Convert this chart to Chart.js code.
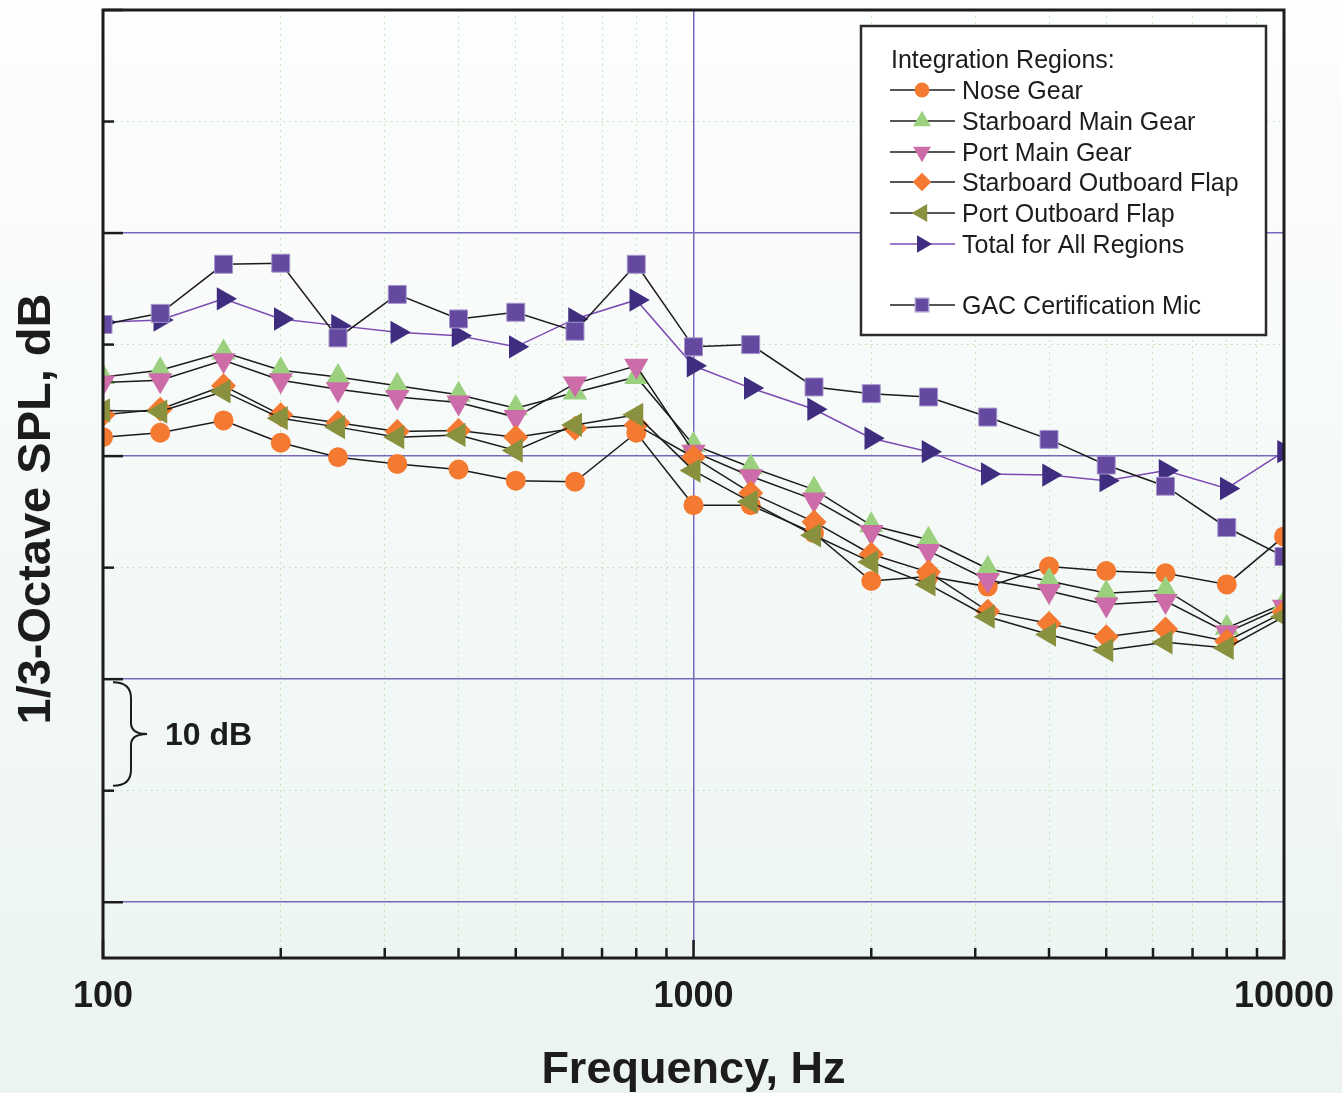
<!DOCTYPE html>
<html>
<head>
<meta charset="utf-8">
<title>1/3-Octave SPL by integration region</title>
<script src="https://cdn.jsdelivr.net/npm/chart.js@4/dist/chart.umd.min.js"></script>
<style>
  html, body { margin: 0; padding: 0; background: #f6faf8; }
  canvas { display: block; }
</style>
</head>
<body>
<canvas id="spl_chart" width="1342" height="1093"></canvas>
<script>
// 1/3-octave band centre frequencies, Hz
const freqs = [100, 125, 160, 200, 250, 315, 400, 500, 630, 800, 1000, 1250, 1600, 2000, 2500, 3150, 4000, 5000, 6300, 8000, 10000];

// band levels, dB (relative)
const noseGear = [41.7, 42.1, 43.2, 41.2, 39.9, 39.3, 38.8, 37.8, 37.7, 42.1, 35.6, 35.6, 33.1, 28.8, 29.2, 28.3, 30.1, 29.7, 29.5, 28.5, 32.8];
const stbdMainGear = [47.1, 47.7, 49.3, 47.7, 47.1, 46.3, 45.5, 44.3, 45.7, 47.1, 41.0, 39.0, 37.0, 33.8, 32.5, 29.9, 28.8, 27.7, 28.0, 24.6, 26.8];
const portMainGear = [46.6, 46.8, 48.6, 46.8, 46.0, 45.3, 44.8, 43.5, 46.5, 48.1, 40.4, 38.2, 36.1, 33.2, 31.5, 28.9, 27.9, 26.7, 27.0, 24.2, 26.5];
const stbdOutFlap = [43.7, 44.2, 46.3, 43.7, 43.0, 42.2, 42.3, 41.7, 42.5, 42.8, 39.9, 36.7, 34.1, 31.2, 29.6, 26.1, 25.0, 23.8, 24.5, 23.4, 26.0];
const portOutFlap = [44.1, 44.0, 45.8, 43.4, 42.6, 41.7, 41.9, 40.5, 42.8, 43.7, 38.7, 35.9, 32.9, 30.5, 28.5, 25.6, 24.0, 22.6, 23.3, 22.8, 25.6];
const totalAll = [52.0, 52.2, 54.1, 52.3, 51.7, 51.1, 50.8, 49.8, 52.3, 54.0, 48.1, 46.1, 44.2, 41.6, 40.4, 38.4, 38.3, 37.8, 38.7, 37.1, 40.4];
const gacMic = [51.8, 52.8, 57.2, 57.3, 50.6, 54.5, 52.3, 52.9, 51.2, 57.2, 49.8, 50.0, 46.2, 45.6, 45.3, 43.5, 41.5, 39.2, 37.3, 33.6, 31.0];

// axis ticks
const xTicks = [100, 200, 300, 400, 500, 600, 700, 800, 900, 1000, 2000, 3000, 4000, 5000, 6000, 7000, 8000, 9000, 10000];
const xLabels = [100, 1000, 10000];
const yTicks = [0, 10, 20, 30, 40, 50, 60, 70, 80];

const FONT = "'Liberation Sans', Arial, Helvetica, sans-serif";
const INK = '#1c1c1c';
const GRID_PURPLE = '#7868bd';
const GRID_DOT = '#b4dea8';

function pts(arr) {
  return freqs.map((f, i) => ({ x: f, y: arr[i] }));
}

const series = [
  { label: 'Nose Gear', data: noseGear, style: 'circle', rot: 0, r: 10, fill: '#f47a32', line: INK, order: 6 },
  { label: 'Starboard Main Gear', data: stbdMainGear, style: 'triangle', rot: 0, r: 14, fill: '#9bd07f', line: INK, order: 5 },
  { label: 'Port Main Gear', data: portMainGear, style: 'triangle', rot: 180, r: 14, fill: '#cc6ca8', line: INK, order: 4 },
  { label: 'Starboard Outboard Flap', data: stbdOutFlap, style: 'rectRot', rot: 0, r: 12.5, fill: '#f47a32', line: INK, order: 3 },
  { label: 'Port Outboard Flap', data: portOutFlap, style: 'triangle', rot: 270, r: 14, fill: '#8a913e', line: INK, order: 2 },
  { label: 'Total for All Regions', data: totalAll, style: 'triangle', rot: 90, r: 13.5, fill: '#3f2e80', line: '#7b4bb3', order: 1 },
  { label: 'GAC Certification Mic', data: gacMic, style: 'rect', rot: 0, r: 12.7, fill: '#65489f', line: INK, order: 0, edge: '#a597cc' }
];

const datasets = series.map(s => ({
  label: s.label,
  data: pts(s.data),
  order: s.order,
  borderColor: s.line,
  borderWidth: 1.5,
  tension: 0,
  clip: 0,
  pointStyle: s.style,
  rotation: s.rot,
  pointRadius: s.r,
  pointHoverRadius: s.r,
  pointBackgroundColor: s.fill,
  pointBorderColor: s.edge || s.fill,
  pointBorderWidth: s.edge ? 1 : 0
}));

// page background, light wash going slightly green towards the bottom
const paper = {
  id: 'paper',
  beforeDraw(chart) {
    const c = chart.ctx;
    const g = c.createLinearGradient(0, 0, 0, chart.height);
    g.addColorStop(0, '#fdfefe');
    g.addColorStop(1, '#ebf4f0');
    c.save();
    c.fillStyle = g;
    c.fillRect(0, 0, chart.width, chart.height);
    c.restore();
  }
};

// heavy box round the plot, with inward tick marks
const frame = {
  id: 'frame',
  afterDatasetsDraw(chart) {
    const c = chart.ctx, a = chart.chartArea;
    const xs = chart.scales.x, ys = chart.scales.y;
    c.save();
    c.strokeStyle = INK;
    c.lineWidth = 2.5;
    xTicks.forEach(v => {
      const px = xs.getPixelForValue(v);
      const len = xLabels.includes(v) ? 18 : 10;
      c.beginPath();
      c.moveTo(px, a.bottom);
      c.lineTo(px, a.bottom - len);
      c.stroke();
    });
    yTicks.forEach(v => {
      const py = ys.getPixelForValue(v);
      const len = v % 20 === 0 ? 20 : 11;
      c.beginPath();
      c.moveTo(a.left, py);
      c.lineTo(a.left + len, py);
      c.stroke();
    });
    c.lineWidth = 3;
    c.strokeRect(a.left, a.top, a.right - a.left, a.bottom - a.top);
    c.restore();
  }
};

// tick labels, axis titles and the 10 dB brace
const texts = {
  id: 'texts',
  afterDraw(chart) {
    const c = chart.ctx, a = chart.chartArea;
    const xs = chart.scales.x, ys = chart.scales.y;
    c.save();
    c.fillStyle = INK;
    c.font = 'bold 36px ' + FONT;
    c.textAlign = 'center';
    c.textBaseline = 'alphabetic';
    xLabels.forEach(v => c.fillText(String(v), xs.getPixelForValue(v), 1007));

    c.font = 'bold 45px ' + FONT;
    c.fillText('Frequency, Hz', (a.left + a.right) / 2, 1083);

    c.save();
    c.translate(50, 509);
    c.rotate(-Math.PI / 2);
    c.font = 'bold 47px ' + FONT;
    c.fillText('1/3-Octave SPL, dB', 0, 0);
    c.restore();

    // brace spanning 10 dB
    const top = ys.getPixelForValue(20) + 3;
    const bot = ys.getPixelForValue(10) - 5;
    const mid = (top + bot) / 2;
    const x0 = a.left + 10, x1 = a.left + 28, tip = a.left + 44;
    c.strokeStyle = INK;
    c.lineWidth = 2;
    c.beginPath();
    c.moveTo(x0, top);
    c.quadraticCurveTo(x1, top, x1, top + 16);
    c.lineTo(x1, mid - 11);
    c.quadraticCurveTo(x1, mid, tip, mid);
    c.quadraticCurveTo(x1, mid, x1, mid + 11);
    c.lineTo(x1, bot - 16);
    c.quadraticCurveTo(x1, bot, x0, bot);
    c.stroke();

    c.textAlign = 'left';
    c.font = 'bold 32px ' + FONT;
    c.fillText('10 dB', 165, mid + 11);
    c.restore();
  }
};

// boxed key in the top right corner
const keyBox = {
  id: 'keyBox',
  afterDraw(chart) {
    const c = chart.ctx;
    const bx = 861, by = 26, bw = 405, bh = 309;
    c.save();
    c.fillStyle = '#ffffff';
    c.fillRect(bx, by, bw, bh);
    c.strokeStyle = '#2b2b2b';
    c.lineWidth = 2.5;
    c.strokeRect(bx, by, bw, bh);

    c.fillStyle = INK;
    c.font = '25px ' + FONT;
    c.textAlign = 'left';
    c.textBaseline = 'alphabetic';
    c.fillText('Integration Regions:', 891, 68);

    const rows = [90, 121, 152, 182, 213, 244, 305];
    series.forEach((s, i) => {
      const y = rows[i];
      c.strokeStyle = s.line;
      c.lineWidth = 1.5;
      c.beginPath();
      c.moveTo(890, y);
      c.lineTo(955, y);
      c.stroke();
      c.fillStyle = s.fill;
      c.strokeStyle = s.edge || s.fill;
      Chart.helpers.drawPoint(c, {
        pointStyle: s.style,
        rotation: s.rot,
        radius: s.r * 0.74,
        borderWidth: s.edge ? 1 : 0
      }, 922, y);
      c.fillStyle = INK;
      c.fillText(s.label, 962, y + 9);
    });
    c.restore();
  }
};

const gridColor = (major, hide) => ctx => {
  if (!ctx.tick) return 'rgba(0,0,0,0)';
  if (hide(ctx.tick.value)) return 'rgba(0,0,0,0)';
  return major(ctx.tick.value) ? GRID_PURPLE : GRID_DOT;
};

const isMajorX = v => v === 1000;
const isMajorY = v => v % 20 === 0;

let ctx = document.getElementById('spl_chart').getContext('2d');
let chart = new Chart(ctx, {
  type: 'line',
  data: { datasets: datasets },
  options: {
    responsive: false,
    animation: false,
    events: [],
    layout: { autoPadding: false, padding: { left: 0, top: 10, right: 58, bottom: 0 } },
    plugins: {
      legend: { display: false },
      tooltip: { enabled: false }
    },
    scales: {
      x: {
        type: 'logarithmic',
        min: 100,
        max: 10000,
        afterBuildTicks: s => { s.ticks = xTicks.map(v => ({ value: v })); },
        afterFit: s => { s.height = 135; },
        ticks: { display: false },
        grid: {
          drawTicks: false,
          color: gridColor(isMajorX, v => v === 100 || v === 10000),
          lineWidth: c => (c.tick && isMajorX(c.tick.value) ? 1.5 : 1)
        },
        border: {
          display: false,
          dash: c => (c.tick && !isMajorX(c.tick.value) ? [1.5, 4.5] : [])
        }
      },
      y: {
        type: 'linear',
        min: -5,
        max: 80,
        afterBuildTicks: s => { s.ticks = yTicks.map(v => ({ value: v })); },
        afterFit: s => { s.width = 103; },
        ticks: { display: false },
        grid: {
          drawTicks: false,
          color: gridColor(isMajorY, v => v === 80),
          lineWidth: c => (c.tick && isMajorY(c.tick.value) ? 1.5 : 1)
        },
        border: {
          display: false,
          dash: c => (c.tick && !isMajorY(c.tick.value) ? [1.5, 4.5] : [])
        }
      }
    }
  },
  plugins: [paper, frame, texts, keyBox]
});
</script>
</body>
</html>
